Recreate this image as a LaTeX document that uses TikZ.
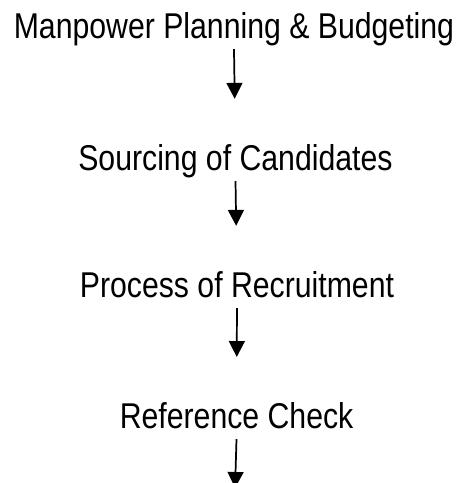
\documentclass[tikz,border=0pt]{standalone}
\usepackage{fontspec}
\setmainfont[FakeStretch=0.843]{Liberation Sans}
\usetikzlibrary{arrows.meta, positioning}

\begin{document}
\begin{tikzpicture}[
        every node/.style={anchor=base, inner sep=0pt, text height=17pt, text depth=5pt,
            font=\fontsize{27}{32}\selectfont},
        flow/.style={-{Triangle[width=12pt,length=12pt]}, line width=1.3pt, shorten <=2.5pt},
        baseline=(current bounding box.center)]
        \useasboundingbox (0,0) rectangle (12.17,12.78);
        \node (S1) at (6.19,11.75) {Manpower Planning \& Budgeting};
        \node (S2) at (6.23,8.26) {Sourcing of Candidates};
        \node (S3) at (6.27,4.90) {Process of Recruitment};
        \node (S4) at (6.26,1.43) {Reference Check};
        \coordinate (S5) at (6.22,-0.13);
        \draw[flow, shorten >=37pt] (S1.south) to (S2.north);
        \draw[flow, shorten >=37pt] (S2.south) to (S3.north);
        \draw[flow, shorten >=37pt] (S3.south) to (S4.north);
        \draw[flow] (S4.south) to (S5);
    \end{tikzpicture}
\end{document}
